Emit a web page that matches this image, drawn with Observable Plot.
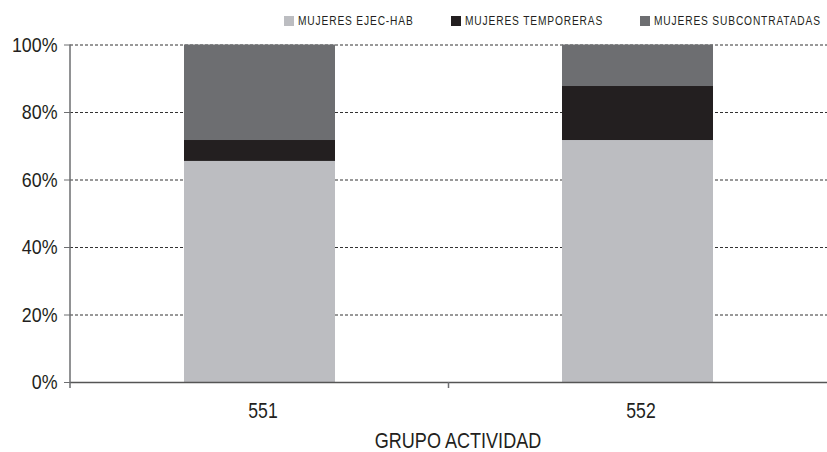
<!DOCTYPE html>
<html>
<head>
<meta charset="utf-8">
<script src="https://cdn.jsdelivr.net/npm/d3@7"></script>
<script src="https://cdn.jsdelivr.net/npm/@observablehq/plot@0.6"></script>
<style>
  html, body { margin: 0; padding: 0; background: #fff; overflow: hidden; }
  #wrap { position: relative; width: 827px; height: 452px; font-family: "Liberation Sans", Arial, sans-serif; }
  #chart { position: absolute; top: 0; left: 0; z-index: 1; }
  #legend { position: absolute; top: 15px; left: 284px; z-index: 2; display: flex; align-items: center; font-size: 12px; color: #231f20; white-space: nowrap; line-height: 12px; }
  #legend .item { display: flex; align-items: center; margin-left: 37px; }
  #legend .item:first-child { margin-left: 0; }
  #legend .sw { width: 10px; height: 10px; margin-right: 4px; display: inline-block; }
  #legend .lbw { display: inline-block; overflow: visible; }
  #legend .lb { display: inline-block; letter-spacing: 1.0px; transform: scaleX(0.85); transform-origin: 0 50%; }
</style>
</head>
<body>
<div id="wrap">
  <div id="chart"></div>
  <div id="legend"></div>
</div>
<script>
const categories = ["551", "552"];
const seriesNames = ["MUJERES EJEC-HAB", "MUJERES TEMPORERAS", "MUJERES SUBCONTRATADAS"];
const ejecHab = [65.5, 71.7];
const temporeras = [6.2, 16.0];
const subcontratadas = [28.3, 12.3];
const yTicks = [0, 20, 40, 60, 80, 100];
const seriesColors = ["#bcbdc1", "#231f20", "#6d6e71"];
const xTitle = "GRUPO ACTIVIDAD";

const seriesValues = [ejecHab, temporeras, subcontratadas];
const rows = [];
seriesNames.forEach((s, i) => categories.forEach((c, j) => rows.push({ cat: c, series: s, value: seriesValues[i][j] })));

const axisDecor = (index, scales, values, dimensions) => {
  const g = d3.create("svg:g");
  const x = scales.x, y = scales.y;
  const x0 = dimensions.marginLeft;
  const y0 = y(0);
  g.append("line").attr("x1", x0).attr("x2", x0).attr("y1", y(100)).attr("y2", y0 + 6)
    .attr("stroke", "#6d6e71").attr("stroke-width", 1.5);
  for (let k = 0; k < categories.length - 1; k++) {
    const xm = (x(categories[k]) + x.bandwidth() + x(categories[k + 1])) / 2;
    g.append("line").attr("x1", xm).attr("x2", xm).attr("y1", y0).attr("y2", y0 + 6)
      .attr("stroke", "#6d6e71").attr("stroke-width", 1.5);
  }
  return g.node();
};

const chart = Plot.plot({
  width: 827,
  height: 452,
  marginLeft: 70,
  marginRight: 0,
  marginTop: 44.5,
  marginBottom: 70,
  style: { fontFamily: '"Liberation Sans", Arial, sans-serif', color: "#231f20", background: "#fff" },
  x: { domain: categories, paddingInner: 0.6, paddingOuter: 0.3, label: null },
  y: { domain: [0, 100], label: null },
  color: { domain: seriesNames, range: seriesColors },
  marks: [
    Plot.gridY(yTicks, { stroke: "#333", strokeOpacity: 1, strokeWidth: 1, strokeDasharray: "3,2" }),
    Plot.barY(rows, { x: "cat", y: "value", fill: "series", order: seriesNames }),
    Plot.ruleY([0], { stroke: "#555", strokeWidth: 1.5 }),
    Plot.axisY(yTicks, { tickFormat: d => d + "%", tickSize: 6, tickPadding: 7, fontSize: 21, stroke: "#6d6e71", fill: "#231f20", label: null }),
    Plot.axisX({ tickSize: 0, tickPadding: 20, dx: 3, fontSize: 22, fill: "#231f20", label: null }),
    Plot.text([xTitle], { frameAnchor: "bottom", dy: 65, dx: 9, fontSize: 21.5, lineAnchor: "bottom", fill: "#231f20" }),
    axisDecor
  ]
});
document.getElementById("chart").appendChild(chart);

// condensed look: squeeze glyphs horizontally around each text's anchor
function squeeze(sel, sx) {
  chart.querySelectorAll(sel).forEach(t => {
    let tr = t.getAttribute("transform") || "";
    const x = t.getAttribute("x");
    if (x != null && isFinite(+x) && +x !== 0) {
      tr += ` translate(${+x},0)`;
      t.removeAttribute("x");
    }
    t.setAttribute("transform", `${tr} scale(${sx},1)`);
  });
}
squeeze('g[aria-label="y-axis tick label"] text', 0.85);
squeeze('g[aria-label="x-axis tick label"] text', 0.8);
squeeze('g[aria-label="text"] text', 0.84);

// legend
const legend = document.getElementById("legend");
seriesNames.forEach((s, i) => {
  const it = document.createElement("div");
  it.className = "item";
  const sw = document.createElement("span");
  sw.className = "sw";
  sw.style.background = seriesColors[i];
  const w = document.createElement("span");
  w.className = "lbw";
  const lb = document.createElement("span");
  lb.className = "lb";
  lb.textContent = s;
  w.appendChild(lb);
  it.appendChild(sw);
  it.appendChild(w);
  legend.appendChild(it);
  w.style.width = lb.getBoundingClientRect().width + "px";
});
</script>
</body>
</html>
